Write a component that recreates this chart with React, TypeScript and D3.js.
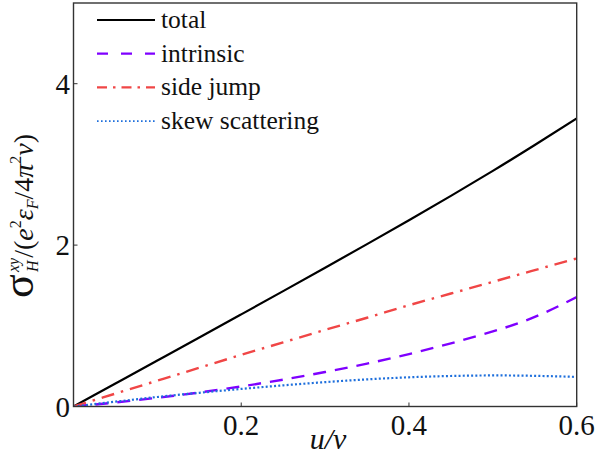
import React from "react";
import * as d3 from "d3";

const uValues = [0, 0.05, 0.1, 0.15, 0.2, 0.25, 0.3, 0.35, 0.4, 0.45, 0.5, 0.55, 0.6];
const totalValues = [0, 0.285, 0.57, 0.855, 1.142, 1.43, 1.72, 2.012, 2.308, 2.61, 2.92, 3.24, 3.57];
const intrinsicValues = [0, 0.05, 0.108, 0.174, 0.249, 0.333, 0.427, 0.532, 0.65, 0.783, 0.93, 1.11, 1.355];
const sideJumpValues = [0, 0.16, 0.32, 0.48, 0.64, 0.795, 0.95, 1.1, 1.255, 1.4, 1.545, 1.69, 1.835];
const skewValues = [0, 0.06, 0.118, 0.17, 0.218, 0.262, 0.302, 0.336, 0.362, 0.378, 0.385, 0.38, 0.367];

const xTicks = [0.2, 0.4, 0.6];
const yTicks = [0, 2, 4];

const seriesNames = ["total", "intrinsic", "side jump", "skew scattering"];

const W = 598;
const H = 454;
const M = { left: 73.5, right: 576.7, top: 3, bottom: 406.5 };
const FONT = '"Liberation Serif"';

export default function App() {
  const x = d3.scaleLinear().domain([0, 0.6]).range([M.left, M.right]);
  const y = d3.scaleLinear().domain([0, 5]).range([M.bottom, M.top]);
  const line = d3
    .line<number>()
    .x((_, i) => x(uValues[i]))
    .y((d) => y(d))
    .curve(d3.curveNatural);

  const series = [
    { name: seriesNames[0], values: totalValues, color: "#000000", dash: "none", legendDash: "none", width: 2.2 },
    { name: seriesNames[1], values: intrinsicValues, color: "#7F00FF", dash: "13,9", legendDash: "11,13", width: 2.4 },
    { name: seriesNames[2], values: sideJumpValues, color: "#F04646", dash: "13,7,2.5,7", legendDash: "10,6,2.5,6", width: 2.4 },
    { name: seriesNames[3], values: skewValues, color: "#1E6FDC", dash: "2,2.2", legendDash: "1.6,2.4", width: 2.2 },
  ];

  const txt = { fontFamily: FONT } as React.CSSProperties;

  return (
    <div style={{ position: "absolute", left: 0, top: 0 }}>
      <svg width={W} height={H} style={{ display: "block", background: "#fff", fontFamily: FONT }}>
        <defs>
          <clipPath id="plotclip">
            <rect x={M.left} y={M.top} width={M.right - M.left} height={M.bottom - M.top} />
          </clipPath>
        </defs>
        <g clipPath="url(#plotclip)">
          {series.map((s) => (
            <path
              key={s.name}
              d={line(s.values) || ""}
              fill="none"
              stroke={s.color}
              strokeWidth={s.width}
              strokeDasharray={s.dash}
            />
          ))}
        </g>
        <rect
          x={M.left}
          y={M.top}
          width={M.right - M.left}
          height={M.bottom - M.top}
          fill="none"
          stroke="#333"
          strokeWidth={1.4}
        />
        {xTicks.map((t) => (
          <g key={"x" + t}>
            <line x1={x(t)} x2={x(t)} y1={M.bottom} y2={M.bottom - 4} stroke="#333" strokeWidth={1} />
            <text x={x(t)} y={435} textAnchor="middle" style={txt} fontSize={29} fill="#111">
              {t.toFixed(1)}
            </text>
          </g>
        ))}
        {yTicks.map((t) => (
          <g key={"y" + t}>
            <line x1={M.left} x2={M.left + 4} y1={y(t)} y2={y(t)} stroke="#333" strokeWidth={1} />
            <text x={70} y={y(t) + 10} textAnchor="end" style={txt} fontSize={29} fill="#111">
              {t}
            </text>
          </g>
        ))}
        <text x={328} y={449} textAnchor="middle" style={txt} fontSize={30} fontStyle="italic" fill="#111">
          u/v
        </text>
        <g transform="rotate(-90)" fill="#111">
          <text x={-298} y={33} style={txt} fontSize={44}>
            σ
          </text>
          <text x={-272} y={33} style={txt} fontSize={28}>
            <tspan fontSize={16} fontStyle="italic" dy={-14}>xy</tspan>
            <tspan fontSize={16} fontStyle="italic" dx={-14.2} dy={19}>H</tspan>
            <tspan dx={2.6} dy={-5}>/(</tspan>
            <tspan fontStyle="italic">e</tspan>
            <tspan fontSize={16} dy={-12}>2</tspan>
            <tspan fontStyle="italic" dy={12}>ε</tspan>
            <tspan fontSize={16} fontStyle="italic" dy={5}>F</tspan>
            <tspan dy={-5}>/4</tspan>
            <tspan fontStyle="italic">π</tspan>
            <tspan fontSize={16} dy={-12}>2</tspan>
            <tspan fontStyle="italic" dy={12}>v</tspan>
            <tspan>)</tspan>
          </text>
        </g>
        {series.map((s, i) => {
          const ly = 20 + i * 33.7;
          return (
            <g key={"lg" + s.name}>
              <line
                x1={97}
                x2={155}
                y1={ly}
                y2={ly}
                stroke={s.color}
                strokeWidth={i === 3 ? 1.8 : 2.2}
                strokeDasharray={s.legendDash}
              />
              <text x={161} y={ly + 8} style={txt} fontSize={25.5} fill="#111">
                {s.name}
              </text>
            </g>
          );
        })}
      </svg>
    </div>
  );
}
